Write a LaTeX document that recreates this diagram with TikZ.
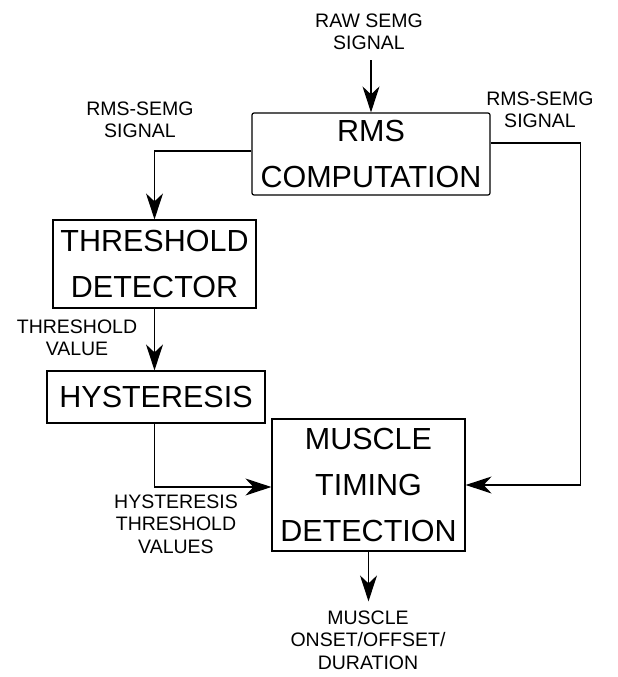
\documentclass[tikz,border=0pt]{standalone}
\usepackage{fontspec}
\setmainfont{Liberation Sans}
\usetikzlibrary{arrows.meta, positioning}

\begin{document}
\begin{tikzpicture}[
    x=1pt, y=-1pt,
    block/.style={draw, line width=1.2pt, inner sep=0pt, align=center, font=\fontsize{30.5}{46}\selectfont},
    signal/.style={inner sep=0pt, align=center, font=\fontsize{19.5}{22.5}\selectfont},
    arrow/.style={-{Stealth[length=26pt, width=17pt, inset=8pt]}, line width=1.2pt}
]
    \useasboundingbox (0,0) rectangle (618,677);
    % Blocks
    \node[block, rounded corners=2pt, minimum width=238pt, minimum height=82pt] (rms) at (371,154) {RMS\\COMPUTATION};
    \node[block, minimum width=203pt, minimum height=88pt] (thr) at (154.5,264) {THRESHOLD\\DETECTOR};
    \node[block, minimum width=218pt, minimum height=52pt] (hys) at (156,397) {HYSTERESIS};
    \node[block, minimum width=193pt, minimum height=132pt] (mus) at (368.5,485) {MUSCLE\\TIMING\\DETECTION};

    % Signal labels
    \node[signal] (raw) at (369,32) {RAW SEMG\\SIGNAL};
    \node[signal] (rmsl) at (140,120) {RMS-SEMG\\SIGNAL};
    \node[signal] (rmsr) at (540,110) {RMS-SEMG\\SIGNAL};
    \node[signal] (thrv) at (77,338) {THRESHOLD\\VALUE};
    \node[signal] (hysv) at (176,524) {HYSTERESIS\\THRESHOLD\\VALUES};
    \node[signal] (out) at (368,640) {MUSCLE\\ONSET/OFFSET/\\DURATION};

    % Connections
    \draw[arrow] ([yshift=-10pt]raw.south -| rms.north) -- (rms.north);
    \draw[arrow] ([yshift=3pt]rms.west) -| (thr.north);
    \draw[arrow] ([yshift=11pt]rms.east) -- ++(90,0) |- (mus.east);
    \draw[arrow] (thr.south) -- (thr.south |- hys.north);
    \draw[arrow] (hys.south -| thr.south) |- ([yshift=-2pt]mus.west);
    \draw[arrow] (mus.south) -- ([yshift=9pt]out.north -| mus.south);
\end{tikzpicture}
\end{document}
